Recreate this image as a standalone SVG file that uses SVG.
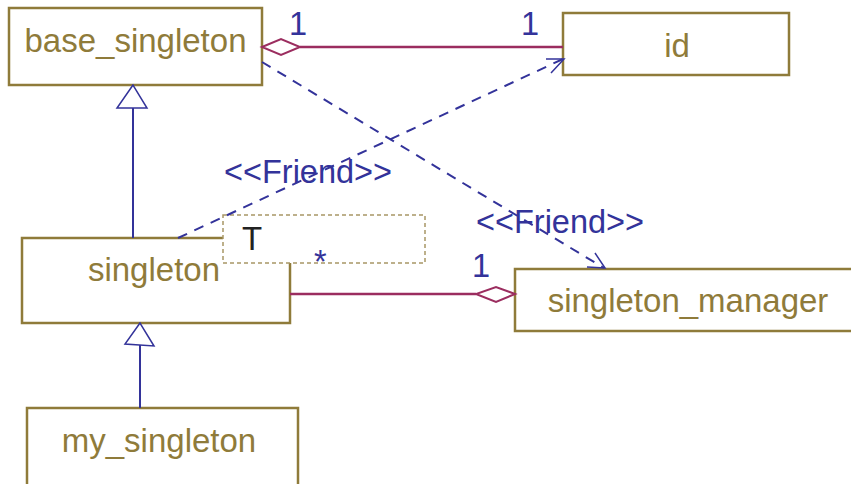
<svg xmlns="http://www.w3.org/2000/svg" width="851" height="484" viewBox="0 0 851 484">
<style>
.box{fill:#fff;stroke:#8f7b3a;stroke-width:2.5}
.name{font-family:"Liberation Sans",Arial,sans-serif;font-size:33px;fill:#8f7b3a;text-anchor:middle}
.lbl{font-family:"Liberation Sans",Arial,sans-serif;font-size:32.5px;fill:#33339a}
.inh{fill:none;stroke:#33339a;stroke-width:2}
.tri{fill:#fff;stroke:#33339a;stroke-width:1.5}
.dep{fill:none;stroke:#33339a;stroke-width:2;stroke-dasharray:10 8}
.head{fill:none;stroke:#33339a;stroke-width:1.5}
.agg{fill:none;stroke:#9b2d5f;stroke-width:2.5}
.dia{fill:#fff;stroke:#9b2d5f;stroke-width:2}
</style>
<rect width="851" height="484" fill="#fff"/>
<g id="base_singleton">
<rect class="box" x="9" y="8" width="253" height="77"/>
<text class="name" x="135.5" y="52">base_singleton</text>
</g>
<g id="id">
<rect class="box" x="563" y="13" width="226" height="62"/>
<text class="name" x="677" y="57">id</text>
</g>
<g id="singleton">
<rect class="box" x="22" y="238" width="268" height="85"/>
<text class="name" x="154" y="281">singleton</text>
<rect x="223" y="215" width="202" height="48" fill="#fff" stroke="#a89766" stroke-width="1.5" stroke-dasharray="4 3"/>
<text x="242" y="250" font-family="'Liberation Sans',Arial,sans-serif" font-size="33" fill="#222">T</text>
</g>
<g id="singleton_manager">
<rect class="box" x="515" y="269" width="345" height="62"/>
<text class="name" x="688" y="312">singleton_manager</text>
</g>
<g id="my_singleton">
<rect class="box" x="27" y="408" width="271" height="90"/>
<text class="name" x="159" y="452">my_singleton</text>
</g>
<g id="connectors">
<line class="inh" x1="133" y1="238" x2="133" y2="108"/>
<polygon class="tri" points="133,85 117,108 147,108"/>
<line class="inh" x1="140" y1="408" x2="140" y2="345"/>
<polygon class="tri" points="140,323 125,344 154,346"/>
<line class="agg" x1="300" y1="47" x2="563" y2="47"/>
<polygon class="dia" points="262,47 281,39 300,47 281,55"/>
<line class="agg" x1="290" y1="294" x2="476" y2="294"/>
<polygon class="dia" points="515,294 496,287 476,294 496,302"/>
<line class="dep" x1="178" y1="238" x2="563" y2="59"/>
<polyline class="head" points="546,59 564,59 551,73"/>
<line class="dep" x1="262" y1="62" x2="604" y2="268"/>
<polyline class="head" points="595,253 605,268 587,267"/>
<text class="lbl" x="289" y="35">1</text>
<text class="lbl" x="521" y="35">1</text>
<text class="lbl" x="472" y="277">1</text>
<text class="lbl" x="314" y="273" font-size="28">*</text>
<text class="lbl" x="224" y="183">&lt;&lt;Friend&gt;&gt;</text>
<text class="lbl" x="476" y="233">&lt;&lt;Friend&gt;&gt;</text>
</g>
</svg>
